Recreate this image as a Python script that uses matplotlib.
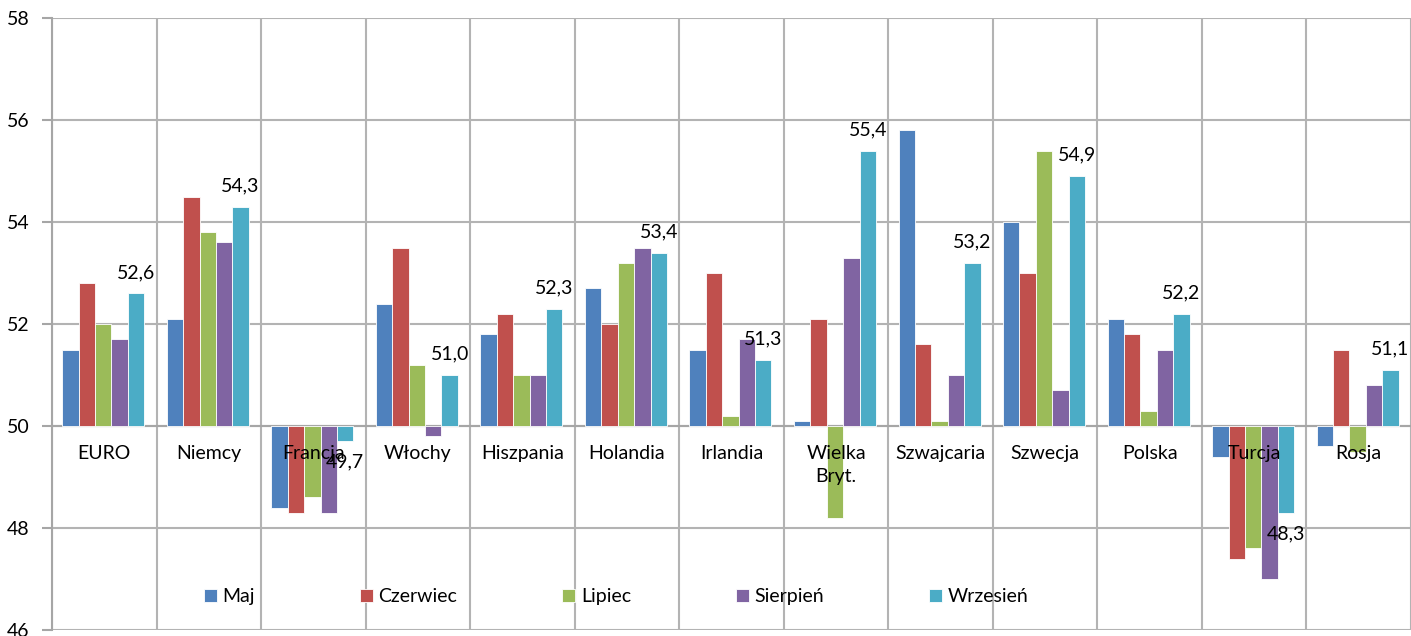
import matplotlib.pyplot as plt
import numpy as np
from matplotlib.ticker import MultipleLocator

countries = ["EURO", "Niemcy", "Francja", "Włochy", "Hiszpania", "Holandia",
             "Irlandia", "Wielka\nBryt.", "Szwajcaria", "Szwecja", "Polska",
             "Turcja", "Rosja"]
months = ["Maj", "Czerwiec", "Lipiec", "Sierpień", "Wrzesień"]

maj = [51.5, 52.1, 48.4, 52.4, 51.8, 52.7, 51.5, 50.1, 55.8, 54.0, 52.1, 49.4, 49.6]
czerwiec = [52.8, 54.5, 48.3, 53.5, 52.2, 52.0, 53.0, 52.1, 51.6, 53.0, 51.8, 47.4, 51.5]
lipiec = [52.0, 53.8, 48.6, 51.2, 51.0, 53.2, 50.2, 48.2, 50.1, 55.4, 50.3, 47.6, 49.5]
sierpien = [51.7, 53.6, 48.3, 49.8, 51.0, 53.5, 51.7, 53.3, 51.0, 50.7, 51.5, 47.0, 50.8]
wrzesien = [52.6, 54.3, 49.7, 51.0, 52.3, 53.4, 51.3, 55.4, 53.2, 54.9, 52.2, 48.3, 51.1]

colors = ["#4F81BD", "#C0504D", "#9BBB59", "#8064A2", "#4BACC6"]
baseline = 50
fs = 14

plt.rcParams["font.family"] = ["Lato", "DejaVu Sans"]
plt.rcParams["font.size"] = fs

fig = plt.figure(figsize=(14.11, 6.36), dpi=100)
ax = fig.add_axes([52 / 1411, 6 / 636, 1359 / 1411, 612 / 636])

x = np.arange(len(countries))
width = 0.157
series = [maj, czerwiec, lipiec, sierpien, wrzesien]
containers = []
for k, (name, vals, col) in enumerate(zip(months, series, colors)):
    vals = np.array(vals)
    bars = ax.bar(x + (k - 2) * width - 0.01, vals - baseline, width,
                  bottom=baseline, color=col, edgecolor="white",
                  linewidth=0.6, label=name, zorder=3)
    containers.append(bars)

# only the last month gets value labels
ax.bar_label(containers[-1], labels=[f"{v:.1f}".replace(".", ",") for v in wrzesien],
             padding=9, fontsize=fs, zorder=5)

ax.set_ylim(46, 58)
ax.set_xlim(-0.5, len(countries) - 0.5)
ax.yaxis.set_major_locator(MultipleLocator(2))

# category axis crosses at 50
ax.spines["bottom"].set_position(("data", baseline))
ax.spines["bottom"].set_color("#a6a6a6")
ax.spines["bottom"].set_linewidth(1.5)
ax.spines["left"].set_color("#a6a6a6")
ax.spines["left"].set_linewidth(1.5)
ax.spines["top"].set_visible(False)
ax.spines["right"].set_visible(False)

# category names sit on top of the bars, just under the 50 line
ax.set_xticks(np.arange(len(countries) + 1) - 0.5)
ax.set_xticklabels([])
ax.tick_params(axis="x", length=0)
for xi, name in zip(x, countries):
    ax.annotate(name, (xi, baseline), xytext=(0, -14), textcoords="offset points",
                ha="center", va="top", fontsize=fs, linespacing=1.4, zorder=5)

ax.tick_params(axis="y", length=7, width=1.5, color="#a6a6a6", pad=9)

ax.grid(color="#b3b3b3", linewidth=1.5)
ax.set_axisbelow(True)

ax.legend(loc="center left", bbox_to_anchor=(0.099, 0.054), ncol=5,
          frameon=False, handlelength=0.65, handleheight=0.65,
          handletextpad=0.3, columnspacing=5.4, fontsize=fs)

fig.savefig("out.png", dpi=100)
